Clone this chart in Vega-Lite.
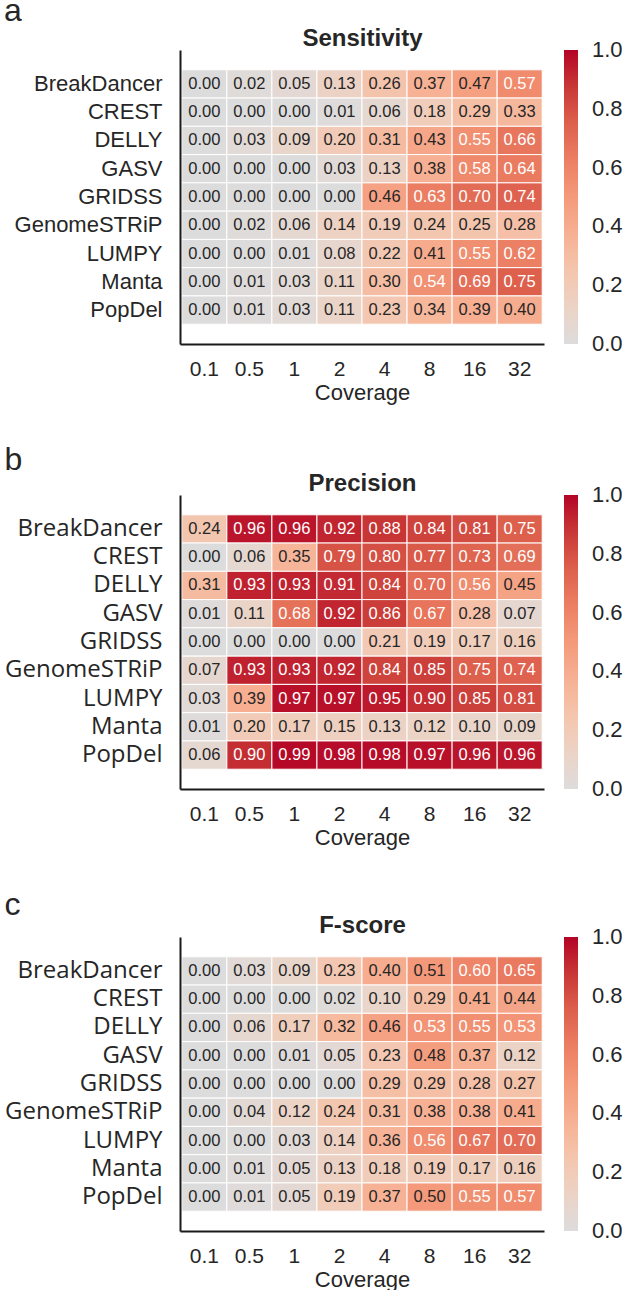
{
  "$schema": "https://vega.github.io/schema/vega-lite/v6.json",
  "background": "white",
  "padding": {"left": 4, "top": -5, "right": 2, "bottom": 0},
  "config": {
    "view": {"stroke": null},
    "font": "Liberation Sans",
    "axis": {"grid": false, "ticks": false, "domainColor": "#1a1a1a", "domainWidth": 2, "labelColor": "#262626", "titleColor": "#262626", "titleFontWeight": "normal"},
    "title": {"color": "#262626"},
    "legend": {"labelColor": "#262626"}
  },
  "datasets": {
    "sens": [
      {"t":"BreakDancer","c":"0.1","v":0.00},{"t":"BreakDancer","c":"0.5","v":0.02},{"t":"BreakDancer","c":"1","v":0.05},{"t":"BreakDancer","c":"2","v":0.13},{"t":"BreakDancer","c":"4","v":0.26},{"t":"BreakDancer","c":"8","v":0.37},{"t":"BreakDancer","c":"16","v":0.47},{"t":"BreakDancer","c":"32","v":0.57},
      {"t":"CREST","c":"0.1","v":0.00},{"t":"CREST","c":"0.5","v":0.00},{"t":"CREST","c":"1","v":0.00},{"t":"CREST","c":"2","v":0.01},{"t":"CREST","c":"4","v":0.06},{"t":"CREST","c":"8","v":0.18},{"t":"CREST","c":"16","v":0.29},{"t":"CREST","c":"32","v":0.33},
      {"t":"DELLY","c":"0.1","v":0.00},{"t":"DELLY","c":"0.5","v":0.03},{"t":"DELLY","c":"1","v":0.09},{"t":"DELLY","c":"2","v":0.20},{"t":"DELLY","c":"4","v":0.31},{"t":"DELLY","c":"8","v":0.43},{"t":"DELLY","c":"16","v":0.55},{"t":"DELLY","c":"32","v":0.66},
      {"t":"GASV","c":"0.1","v":0.00},{"t":"GASV","c":"0.5","v":0.00},{"t":"GASV","c":"1","v":0.00},{"t":"GASV","c":"2","v":0.03},{"t":"GASV","c":"4","v":0.13},{"t":"GASV","c":"8","v":0.38},{"t":"GASV","c":"16","v":0.58},{"t":"GASV","c":"32","v":0.64},
      {"t":"GRIDSS","c":"0.1","v":0.00},{"t":"GRIDSS","c":"0.5","v":0.00},{"t":"GRIDSS","c":"1","v":0.00},{"t":"GRIDSS","c":"2","v":0.00},{"t":"GRIDSS","c":"4","v":0.46},{"t":"GRIDSS","c":"8","v":0.63},{"t":"GRIDSS","c":"16","v":0.70},{"t":"GRIDSS","c":"32","v":0.74},
      {"t":"GenomeSTRiP","c":"0.1","v":0.00},{"t":"GenomeSTRiP","c":"0.5","v":0.02},{"t":"GenomeSTRiP","c":"1","v":0.06},{"t":"GenomeSTRiP","c":"2","v":0.14},{"t":"GenomeSTRiP","c":"4","v":0.19},{"t":"GenomeSTRiP","c":"8","v":0.24},{"t":"GenomeSTRiP","c":"16","v":0.25},{"t":"GenomeSTRiP","c":"32","v":0.28},
      {"t":"LUMPY","c":"0.1","v":0.00},{"t":"LUMPY","c":"0.5","v":0.00},{"t":"LUMPY","c":"1","v":0.01},{"t":"LUMPY","c":"2","v":0.08},{"t":"LUMPY","c":"4","v":0.22},{"t":"LUMPY","c":"8","v":0.41},{"t":"LUMPY","c":"16","v":0.55},{"t":"LUMPY","c":"32","v":0.62},
      {"t":"Manta","c":"0.1","v":0.00},{"t":"Manta","c":"0.5","v":0.01},{"t":"Manta","c":"1","v":0.03},{"t":"Manta","c":"2","v":0.11},{"t":"Manta","c":"4","v":0.30},{"t":"Manta","c":"8","v":0.54},{"t":"Manta","c":"16","v":0.69},{"t":"Manta","c":"32","v":0.75},
      {"t":"PopDel","c":"0.1","v":0.00},{"t":"PopDel","c":"0.5","v":0.01},{"t":"PopDel","c":"1","v":0.03},{"t":"PopDel","c":"2","v":0.11},{"t":"PopDel","c":"4","v":0.23},{"t":"PopDel","c":"8","v":0.34},{"t":"PopDel","c":"16","v":0.39},{"t":"PopDel","c":"32","v":0.40}
    ],
    "prec": [
      {"t":"BreakDancer","c":"0.1","v":0.24},{"t":"BreakDancer","c":"0.5","v":0.96},{"t":"BreakDancer","c":"1","v":0.96},{"t":"BreakDancer","c":"2","v":0.92},{"t":"BreakDancer","c":"4","v":0.88},{"t":"BreakDancer","c":"8","v":0.84},{"t":"BreakDancer","c":"16","v":0.81},{"t":"BreakDancer","c":"32","v":0.75},
      {"t":"CREST","c":"0.1","v":0.00},{"t":"CREST","c":"0.5","v":0.06},{"t":"CREST","c":"1","v":0.35},{"t":"CREST","c":"2","v":0.79},{"t":"CREST","c":"4","v":0.80},{"t":"CREST","c":"8","v":0.77},{"t":"CREST","c":"16","v":0.73},{"t":"CREST","c":"32","v":0.69},
      {"t":"DELLY","c":"0.1","v":0.31},{"t":"DELLY","c":"0.5","v":0.93},{"t":"DELLY","c":"1","v":0.93},{"t":"DELLY","c":"2","v":0.91},{"t":"DELLY","c":"4","v":0.84},{"t":"DELLY","c":"8","v":0.70},{"t":"DELLY","c":"16","v":0.56},{"t":"DELLY","c":"32","v":0.45},
      {"t":"GASV","c":"0.1","v":0.01},{"t":"GASV","c":"0.5","v":0.11},{"t":"GASV","c":"1","v":0.68},{"t":"GASV","c":"2","v":0.92},{"t":"GASV","c":"4","v":0.86},{"t":"GASV","c":"8","v":0.67},{"t":"GASV","c":"16","v":0.28},{"t":"GASV","c":"32","v":0.07},
      {"t":"GRIDSS","c":"0.1","v":0.00},{"t":"GRIDSS","c":"0.5","v":0.00},{"t":"GRIDSS","c":"1","v":0.00},{"t":"GRIDSS","c":"2","v":0.00},{"t":"GRIDSS","c":"4","v":0.21},{"t":"GRIDSS","c":"8","v":0.19},{"t":"GRIDSS","c":"16","v":0.17},{"t":"GRIDSS","c":"32","v":0.16},
      {"t":"GenomeSTRiP","c":"0.1","v":0.07},{"t":"GenomeSTRiP","c":"0.5","v":0.93},{"t":"GenomeSTRiP","c":"1","v":0.93},{"t":"GenomeSTRiP","c":"2","v":0.92},{"t":"GenomeSTRiP","c":"4","v":0.84},{"t":"GenomeSTRiP","c":"8","v":0.85},{"t":"GenomeSTRiP","c":"16","v":0.75},{"t":"GenomeSTRiP","c":"32","v":0.74},
      {"t":"LUMPY","c":"0.1","v":0.03},{"t":"LUMPY","c":"0.5","v":0.39},{"t":"LUMPY","c":"1","v":0.97},{"t":"LUMPY","c":"2","v":0.97},{"t":"LUMPY","c":"4","v":0.95},{"t":"LUMPY","c":"8","v":0.90},{"t":"LUMPY","c":"16","v":0.85},{"t":"LUMPY","c":"32","v":0.81},
      {"t":"Manta","c":"0.1","v":0.01},{"t":"Manta","c":"0.5","v":0.20},{"t":"Manta","c":"1","v":0.17},{"t":"Manta","c":"2","v":0.15},{"t":"Manta","c":"4","v":0.13},{"t":"Manta","c":"8","v":0.12},{"t":"Manta","c":"16","v":0.10},{"t":"Manta","c":"32","v":0.09},
      {"t":"PopDel","c":"0.1","v":0.06},{"t":"PopDel","c":"0.5","v":0.90},{"t":"PopDel","c":"1","v":0.99},{"t":"PopDel","c":"2","v":0.98},{"t":"PopDel","c":"4","v":0.98},{"t":"PopDel","c":"8","v":0.97},{"t":"PopDel","c":"16","v":0.96},{"t":"PopDel","c":"32","v":0.96}
    ],
    "fsc": [
      {"t":"BreakDancer","c":"0.1","v":0.00},{"t":"BreakDancer","c":"0.5","v":0.03},{"t":"BreakDancer","c":"1","v":0.09},{"t":"BreakDancer","c":"2","v":0.23},{"t":"BreakDancer","c":"4","v":0.40},{"t":"BreakDancer","c":"8","v":0.51},{"t":"BreakDancer","c":"16","v":0.60},{"t":"BreakDancer","c":"32","v":0.65},
      {"t":"CREST","c":"0.1","v":0.00},{"t":"CREST","c":"0.5","v":0.00},{"t":"CREST","c":"1","v":0.00},{"t":"CREST","c":"2","v":0.02},{"t":"CREST","c":"4","v":0.10},{"t":"CREST","c":"8","v":0.29},{"t":"CREST","c":"16","v":0.41},{"t":"CREST","c":"32","v":0.44},
      {"t":"DELLY","c":"0.1","v":0.00},{"t":"DELLY","c":"0.5","v":0.06},{"t":"DELLY","c":"1","v":0.17},{"t":"DELLY","c":"2","v":0.32},{"t":"DELLY","c":"4","v":0.46},{"t":"DELLY","c":"8","v":0.53},{"t":"DELLY","c":"16","v":0.55},{"t":"DELLY","c":"32","v":0.53},
      {"t":"GASV","c":"0.1","v":0.00},{"t":"GASV","c":"0.5","v":0.00},{"t":"GASV","c":"1","v":0.01},{"t":"GASV","c":"2","v":0.05},{"t":"GASV","c":"4","v":0.23},{"t":"GASV","c":"8","v":0.48},{"t":"GASV","c":"16","v":0.37},{"t":"GASV","c":"32","v":0.12},
      {"t":"GRIDSS","c":"0.1","v":0.00},{"t":"GRIDSS","c":"0.5","v":0.00},{"t":"GRIDSS","c":"1","v":0.00},{"t":"GRIDSS","c":"2","v":0.00},{"t":"GRIDSS","c":"4","v":0.29},{"t":"GRIDSS","c":"8","v":0.29},{"t":"GRIDSS","c":"16","v":0.28},{"t":"GRIDSS","c":"32","v":0.27},
      {"t":"GenomeSTRiP","c":"0.1","v":0.00},{"t":"GenomeSTRiP","c":"0.5","v":0.04},{"t":"GenomeSTRiP","c":"1","v":0.12},{"t":"GenomeSTRiP","c":"2","v":0.24},{"t":"GenomeSTRiP","c":"4","v":0.31},{"t":"GenomeSTRiP","c":"8","v":0.38},{"t":"GenomeSTRiP","c":"16","v":0.38},{"t":"GenomeSTRiP","c":"32","v":0.41},
      {"t":"LUMPY","c":"0.1","v":0.00},{"t":"LUMPY","c":"0.5","v":0.00},{"t":"LUMPY","c":"1","v":0.03},{"t":"LUMPY","c":"2","v":0.14},{"t":"LUMPY","c":"4","v":0.36},{"t":"LUMPY","c":"8","v":0.56},{"t":"LUMPY","c":"16","v":0.67},{"t":"LUMPY","c":"32","v":0.70},
      {"t":"Manta","c":"0.1","v":0.00},{"t":"Manta","c":"0.5","v":0.01},{"t":"Manta","c":"1","v":0.05},{"t":"Manta","c":"2","v":0.13},{"t":"Manta","c":"4","v":0.18},{"t":"Manta","c":"8","v":0.19},{"t":"Manta","c":"16","v":0.17},{"t":"Manta","c":"32","v":0.16},
      {"t":"PopDel","c":"0.1","v":0.00},{"t":"PopDel","c":"0.5","v":0.01},{"t":"PopDel","c":"1","v":0.05},{"t":"PopDel","c":"2","v":0.19},{"t":"PopDel","c":"4","v":0.37},{"t":"PopDel","c":"8","v":0.50},{"t":"PopDel","c":"16","v":0.55},{"t":"PopDel","c":"32","v":0.57}
    ]
  },
  "spacing": 41,
  "resolve": {"scale": {"color": "independent", "x": "independent", "y": "independent"}, "legend": {"color": "independent"}},
  "vconcat": [
    {
      "data": {"name": "sens"},
      "width": 364, "height": 294,
      "title": {"text": "a", "anchor": "start", "frame": "bounds", "fontSize": 32, "fontWeight": "normal", "dx": -10, "offset": -2},
      "encoding": {
        "y": {"field": "t", "type": "nominal", "sort": ["BreakDancer","CREST","DELLY","GASV","GRIDSS","GenomeSTRiP","LUMPY","Manta","PopDel"], "scale": {"paddingInner": 0, "paddingOuter": 0.7}, "axis": {"title": null, "labelFontSize": 22, "labelFont": "Liberation Sans", "labelPadding": 18, "offset": 0}}
      },
      "layer": [
        {
          "mark": {"type": "rect", "stroke": "white", "strokeWidth": 1},
          "encoding": {
            "x": {"field": "c", "type": "ordinal", "sort": ["0.1","0.5","1","2","4","8","16","32"], "scale": {"paddingInner": 0, "paddingOuter": 0.04}, "axis": {"title": "Coverage", "labelAngle": 0, "labelFontSize": 21, "titleFontSize": 22, "labelPadding": 14, "titlePadding": 3}},
            "color": {"field": "v", "type": "quantitative", "scale": {"domain": [0, 0.125, 0.25, 0.375, 0.5, 0.625, 0.75, 0.875, 1], "range": ["#dddcdc", "#ecd3c5", "#f4c5ad", "#f7b194", "#f49a7b", "#ec7f63", "#dd604d", "#c83836", "#b40426"], "interpolate": "rgb"}, "legend": {"title": null, "values": [0, 0.2, 0.4, 0.6, 0.8, 1], "format": ".1f", "gradientLength": 294, "gradientThickness": 14, "gradientStrokeWidth": 0, "labelFontSize": 22, "labelOffset": 14, "offset": 20, "padding": 0, "orient": "right", "encode": {"labels": {"update": {"baseline": {"value": "middle"}}}}}}
          }
        },
        {
          "mark": {"type": "text", "fontSize": 16.5},
          "encoding": {
            "x": {"field": "c", "type": "ordinal", "sort": ["0.1","0.5","1","2","4","8","16","32"], "axis": {"orient": "top", "title": "Sensitivity", "domain": false, "labels": false, "ticks": false, "titleFontSize": 24, "titleFontWeight": "bold", "titlePadding": 0}},
            "text": {"field": "v", "type": "quantitative", "format": ".2f"},
            "color": {"condition": {"test": "datum.v > 0.52", "value": "white"}, "value": "#262626"}
          }
        }
      ],
      "resolve": {"axis": {"x": "independent"}}
    },
    {
      "data": {"name": "prec"},
      "width": 364, "height": 294,
      "title": {"text": "b", "anchor": "start", "frame": "bounds", "fontSize": 32, "fontWeight": "normal", "dx": 0, "offset": -6},
      "encoding": {
        "y": {"field": "t", "type": "nominal", "sort": ["BreakDancer","CREST","DELLY","GASV","GRIDSS","GenomeSTRiP","LUMPY","Manta","PopDel"], "scale": {"paddingInner": 0, "paddingOuter": 0.7}, "axis": {"title": null, "labelFontSize": 24, "labelFont": "Open Sans", "labelPadding": 18, "offset": 0}}
      },
      "layer": [
        {
          "mark": {"type": "rect", "stroke": "white", "strokeWidth": 1},
          "encoding": {
            "x": {"field": "c", "type": "ordinal", "sort": ["0.1","0.5","1","2","4","8","16","32"], "scale": {"paddingInner": 0, "paddingOuter": 0.04}, "axis": {"title": "Coverage", "labelAngle": 0, "labelFontSize": 21, "titleFontSize": 22, "labelPadding": 14, "titlePadding": 3}},
            "color": {"field": "v", "type": "quantitative", "scale": {"domain": [0, 0.125, 0.25, 0.375, 0.5, 0.625, 0.75, 0.875, 1], "range": ["#dddcdc", "#ecd3c5", "#f4c5ad", "#f7b194", "#f49a7b", "#ec7f63", "#dd604d", "#c83836", "#b40426"], "interpolate": "rgb"}, "legend": {"title": null, "values": [0, 0.2, 0.4, 0.6, 0.8, 1], "format": ".1f", "gradientLength": 294, "gradientThickness": 14, "gradientStrokeWidth": 0, "labelFontSize": 22, "labelOffset": 14, "offset": 20, "padding": 0, "orient": "right", "encode": {"labels": {"update": {"baseline": {"value": "middle"}}}}}}
          }
        },
        {
          "mark": {"type": "text", "fontSize": 16.5},
          "encoding": {
            "x": {"field": "c", "type": "ordinal", "sort": ["0.1","0.5","1","2","4","8","16","32"], "axis": {"orient": "top", "title": "Precision", "domain": false, "labels": false, "ticks": false, "titleFontSize": 24, "titleFontWeight": "bold", "titlePadding": 0}},
            "text": {"field": "v", "type": "quantitative", "format": ".2f"},
            "color": {"condition": {"test": "datum.v > 0.52", "value": "white"}, "value": "#262626"}
          }
        }
      ],
      "resolve": {"axis": {"x": "independent"}}
    },
    {
      "data": {"name": "fsc"},
      "width": 364, "height": 294,
      "title": {"text": "c", "anchor": "start", "frame": "bounds", "fontSize": 32, "fontWeight": "normal", "dx": 0, "offset": -9},
      "encoding": {
        "y": {"field": "t", "type": "nominal", "sort": ["BreakDancer","CREST","DELLY","GASV","GRIDSS","GenomeSTRiP","LUMPY","Manta","PopDel"], "scale": {"paddingInner": 0, "paddingOuter": 0.7}, "axis": {"title": null, "labelFontSize": 24, "labelFont": "Open Sans", "labelPadding": 18, "offset": 0}}
      },
      "layer": [
        {
          "mark": {"type": "rect", "stroke": "white", "strokeWidth": 1},
          "encoding": {
            "x": {"field": "c", "type": "ordinal", "sort": ["0.1","0.5","1","2","4","8","16","32"], "scale": {"paddingInner": 0, "paddingOuter": 0.04}, "axis": {"title": "Coverage", "labelAngle": 0, "labelFontSize": 21, "titleFontSize": 22, "labelPadding": 14, "titlePadding": 3}},
            "color": {"field": "v", "type": "quantitative", "scale": {"domain": [0, 0.125, 0.25, 0.375, 0.5, 0.625, 0.75, 0.875, 1], "range": ["#dddcdc", "#ecd3c5", "#f4c5ad", "#f7b194", "#f49a7b", "#ec7f63", "#dd604d", "#c83836", "#b40426"], "interpolate": "rgb"}, "legend": {"title": null, "values": [0, 0.2, 0.4, 0.6, 0.8, 1], "format": ".1f", "gradientLength": 294, "gradientThickness": 14, "gradientStrokeWidth": 0, "labelFontSize": 22, "labelOffset": 14, "offset": 20, "padding": 0, "orient": "right", "encode": {"labels": {"update": {"baseline": {"value": "middle"}}}}}}
          }
        },
        {
          "mark": {"type": "text", "fontSize": 16.5},
          "encoding": {
            "x": {"field": "c", "type": "ordinal", "sort": ["0.1","0.5","1","2","4","8","16","32"], "axis": {"orient": "top", "title": "F-score", "domain": false, "labels": false, "ticks": false, "titleFontSize": 24, "titleFontWeight": "bold", "titlePadding": 0}},
            "text": {"field": "v", "type": "quantitative", "format": ".2f"},
            "color": {"condition": {"test": "datum.v > 0.52", "value": "white"}, "value": "#262626"}
          }
        }
      ],
      "resolve": {"axis": {"x": "independent"}}
    }
  ]
}
